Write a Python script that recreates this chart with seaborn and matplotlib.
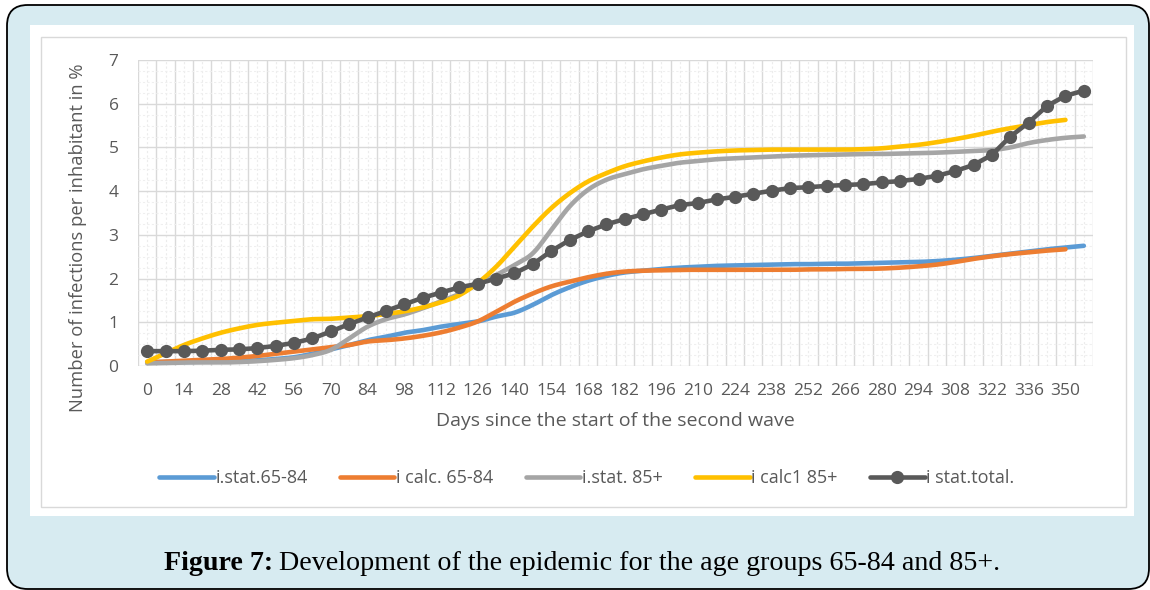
import numpy as np
import pandas as pd
import matplotlib
matplotlib.use("Agg")
import matplotlib.pyplot as plt
import seaborn as sns
from matplotlib.patches import FancyBboxPatch, Rectangle

# ---------------- data ----------------
days = list(range(0, 358, 7))  # 52 categories, 0..357

stat_65_84 = [0.09, 0.09, 0.09, 0.10, 0.10, 0.11, 0.13, 0.16, 0.20, 0.28, 0.38, 0.48,
              0.59, 0.67, 0.76, 0.82, 0.90, 0.96, 1.02, 1.13, 1.22, 1.40, 1.62, 1.80,
              1.95, 2.06, 2.14, 2.18, 2.22, 2.25, 2.27, 2.29, 2.30, 2.31, 2.32, 2.33,
              2.33, 2.34, 2.34, 2.35, 2.36, 2.37, 2.38, 2.40, 2.43, 2.47, 2.52, 2.57,
              2.62, 2.67, 2.71, 2.75]

calc_65_84 = [0.08, 0.10, 0.12, 0.14, 0.16, 0.19, 0.23, 0.28, 0.33, 0.38, 0.43, 0.48,
              0.56, 0.59, 0.63, 0.69, 0.77, 0.88, 1.02, 1.24, 1.47, 1.66, 1.82, 1.93,
              2.03, 2.11, 2.16, 2.18, 2.19, 2.20, 2.20, 2.20, 2.20, 2.20, 2.20, 2.20,
              2.21, 2.21, 2.22, 2.22, 2.23, 2.25, 2.28, 2.32, 2.38, 2.45, 2.51, 2.56,
              2.60, 2.64, 2.67]

stat_85 = [0.06, 0.07, 0.08, 0.08, 0.08, 0.09, 0.11, 0.14, 0.18, 0.25, 0.37, 0.63,
           0.90, 1.07, 1.18, 1.32, 1.48, 1.65, 1.87, 2.08, 2.31, 2.58, 3.11, 3.65,
           4.03, 4.26, 4.39, 4.50, 4.58, 4.65, 4.69, 4.73, 4.75, 4.77, 4.79, 4.81,
           4.82, 4.83, 4.84, 4.85, 4.85, 4.86, 4.87, 4.88, 4.90, 4.92, 4.94, 5.00,
           5.10, 5.17, 5.22, 5.25]

calc1_85 = [0.10, 0.29, 0.48, 0.63, 0.76, 0.86, 0.94, 0.99, 1.03, 1.07, 1.08, 1.11,
            1.14, 1.19, 1.25, 1.34, 1.46, 1.62, 1.90, 2.27, 2.73, 3.19, 3.61, 3.95,
            4.22, 4.41, 4.57, 4.68, 4.77, 4.84, 4.88, 4.91, 4.93, 4.94, 4.95, 4.95,
            4.95, 4.95, 4.95, 4.96, 4.98, 5.02, 5.06, 5.12, 5.19, 5.27, 5.36, 5.44,
            5.51, 5.58, 5.63]

stat_total = [0.34, 0.34, 0.34, 0.35, 0.37, 0.38, 0.41, 0.46, 0.53, 0.63, 0.79, 0.96,
              1.11, 1.26, 1.41, 1.56, 1.68, 1.80, 1.88, 2.00, 2.12, 2.33, 2.63, 2.88,
              3.08, 3.24, 3.36, 3.47, 3.58, 3.68, 3.73, 3.81, 3.87, 3.94, 4.01, 4.07,
              4.09, 4.12, 4.14, 4.16, 4.20, 4.23, 4.28, 4.35, 4.46, 4.60, 4.83, 5.25,
              5.57, 5.95, 6.18, 6.30]

x_tick_labels = [str(d) for d in range(0, 351, 14)]
y_tick_labels = [str(v) for v in range(0, 8)]

series_names = ["i.stat.65-84", "i calc. 65-84", "i.stat. 85+", "i calc1 85+", "i stat.total."]
colors = ["#5b9bd5", "#ed7d31", "#a5a5a5", "#ffc000", "#595959"]


def smooth(xs, ys, n=14):
    """Catmull-Rom smoothing through the points (like Excel's smoothed line)."""
    P = np.column_stack([np.asarray(xs, float), np.asarray(ys, float)])
    P = np.vstack([P[0], P, P[-1]])
    out = []
    t = np.linspace(0, 1, n, endpoint=False)[:, None]
    for i in range(1, len(P) - 2):
        p0, p1, p2, p3 = P[i - 1], P[i], P[i + 1], P[i + 2]
        c = 0.5 * ((2 * p1) + (-p0 + p2) * t + (2 * p0 - 5 * p1 + 4 * p2 - p3) * t ** 2
                   + (-p0 + 3 * p1 - 3 * p2 + p3) * t ** 3)
        out.append(c)
    out.append(P[-2][None])
    S = np.vstack(out)
    return S[:, 0], S[:, 1]


sns.set_theme(style="white")
plt.rcParams["font.family"] = ["Open Sans", "DejaVu Sans"]

W, H = 1150, 590
fig = plt.figure(figsize=(W / 100, H / 100), dpi=100)
fig.patch.set_facecolor("white")


def fx(px):
    return px / W


def fy(py):
    return 1 - py / H


# outer light-blue rounded panel
fig.add_artist(FancyBboxPatch((fx(7), fy(589)), fx(1149) - fx(7), fy(5) - fy(589),
                              boxstyle="round,pad=0,rounding_size=0.018",
                              transform=fig.transFigure, facecolor="#d7ebf1",
                              edgecolor="black", linewidth=1.3, zorder=-10,
                              mutation_aspect=W / H))
# white chart image area
fig.add_artist(Rectangle((fx(30), fy(516)), fx(1134) - fx(30), fy(25) - fy(516),
                         transform=fig.transFigure, facecolor="white",
                         edgecolor="none", zorder=-9))
# chart area border
fig.add_artist(Rectangle((fx(41), fy(507)), fx(1126) - fx(41), fy(37) - fy(507),
                         transform=fig.transFigure, facecolor="white",
                         edgecolor="#d9d9d9", linewidth=1.0, zorder=-8))

ax = fig.add_axes([fx(138), fy(366), fx(1093) - fx(138), fy(60) - fy(366)])
ax.set_facecolor("white")
ax.patch.set_alpha(0)

smooth_series = [stat_65_84, calc_65_84, stat_85, calc1_85]
for name, vals, col in zip(series_names[:4], smooth_series, colors[:4]):
    xs, ys = smooth(days[:len(vals)], vals)
    df = pd.DataFrame({"day": xs, "val": ys})
    sns.lineplot(data=df, x="day", y="val", ax=ax, color=col, linewidth=3.3,
                 sort=False, estimator=None, label=name, solid_capstyle="round")

df_tot = pd.DataFrame({"day": days, "val": stat_total})
sns.lineplot(data=df_tot, x="day", y="val", ax=ax, color=colors[4], linewidth=3.3,
             marker="o", markersize=9.5, markeredgewidth=0, markerfacecolor=colors[4],
             sort=False, estimator=None, label=series_names[4], solid_capstyle="round")

# axes limits: category axis with half-category padding
step = days[1] - days[0]
ax.set_xlim(days[0] - step / 2, days[-1] + step / 2)
ax.set_ylim(0, 7)

# grid
for b in np.arange(days[0] - step / 2, days[-1] + step, step):
    ax.axvline(b, color="#d9d9d9", linewidth=1.0, zorder=0)
for c in days:
    ax.axvline(c, color="#ececec", linewidth=0.8, linestyle=(0, (2, 2)), zorder=0)
for yv in range(0, 8):
    ax.axhline(yv, color="#d9d9d9", linewidth=1.0, zorder=0)
for yv in np.arange(0, 7, 0.25):
    if abs(yv - round(yv)) > 1e-6:
        ax.axhline(yv, color="#efefef", linewidth=0.8, linestyle=(0, (2, 2)), zorder=0)

ax.set_xticks([int(s) for s in x_tick_labels])
ax.set_xticklabels(x_tick_labels)
ax.set_yticks([int(s) for s in y_tick_labels])
ax.set_yticklabels(y_tick_labels)
ax.tick_params(axis="both", length=0, colors="#595959", labelsize=12.5)
ax.tick_params(axis="x", pad=12)
ax.tick_params(axis="y", pad=14)
for s in ax.spines.values():
    s.set_visible(False)

ax.set_xlabel("Days since the start of the second wave", fontsize=14, color="#595959")
ax.xaxis.set_label_coords((615 - 138) / (1093 - 138), (366 - 412) / (366 - 60))
ax.set_ylabel("Number of infections per inhabitant in %", fontsize=13.2, color="#595959")
ax.yaxis.set_label_coords((87 - 138) / (1093 - 138), (366 - 238) / (366 - 60))

handles, labels = ax.get_legend_handles_labels()
ax.get_legend().remove()
leg = fig.legend(handles, labels, loc="center", bbox_to_anchor=(fx(587), fy(478)),
                 ncol=5, frameon=False, fontsize=13, handlelength=3.0,
                 handletextpad=0.1, columnspacing=1.8, numpoints=1)
for t in leg.get_texts():
    t.set_color("#595959")

# caption
renderer = fig.canvas.get_renderer()
t1 = fig.text(fx(164), fy(563), "Figure 7:", fontsize=20.2, fontweight="bold",
              family="Liberation Serif", ha="left", va="center", color="black")
bb = t1.get_window_extent(renderer)
fig.text(bb.x1 / W + fx(6), fy(563),
         "Development of the epidemic for the age groups 65-84 and 85+.",
         fontsize=20.2, family="Liberation Serif", ha="left", va="center", color="black")

fig.savefig("out.png", dpi=100, facecolor=fig.get_facecolor())
